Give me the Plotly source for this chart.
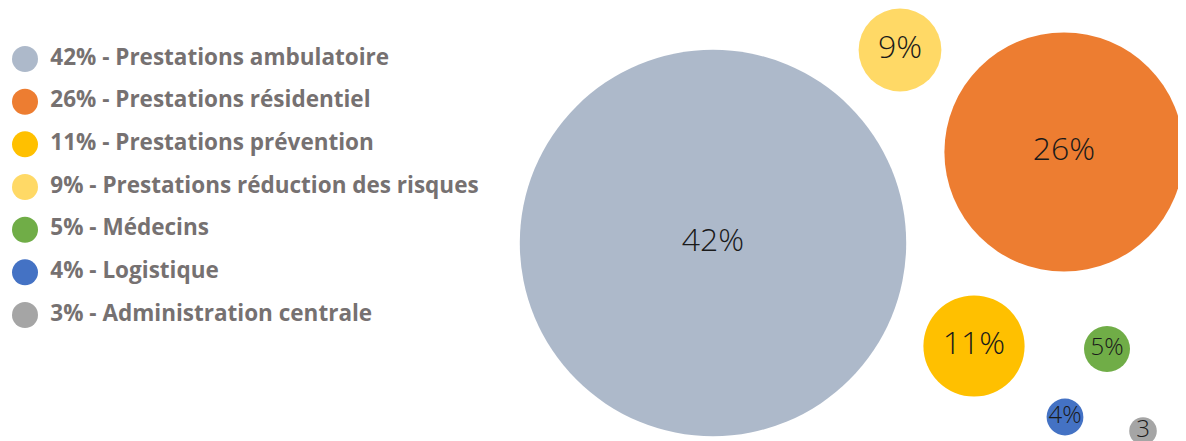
import plotly.graph_objects as go

categories = ["Prestations ambulatoire", "Prestations résidentiel", "Prestations prévention",
              "Prestations réduction des risques", "Médecins", "Logistique", "Administration centrale"]
values = [42, 26, 11, 9, 5, 4, 3]
bubble_labels = ["42%", "26%", "11%", "9%", "5%", "4%", "3"]
colors = ["#ADB9CA", "#ED7D31", "#FFC000", "#FFD966", "#70AD47", "#4472C4", "#A5A5A5"]
# bubble layout positions (chart units)
x_pos = [713, 1064, 974, 900, 1107, 1065, 1143]
y_pos = [243, 152, 346, 50, 349, 417, 431]
label_sizes = [32, 32, 32, 32, 24, 24, 24]

legend_text = [f"{v}% - {c}" for v, c in zip(values, categories)]

fig = go.Figure()

fig.add_trace(go.Scatter(
    x=x_pos, y=y_pos, mode="markers+text",
    text=bubble_labels, textposition="middle center",
    marker=dict(size=[v * 9.2 for v in values], sizemode="diameter", color=colors,
                opacity=1, line=dict(width=0)),
    textfont=dict(family="Open Sans", size=label_sizes, color="#1a1a1a", weight=300),
    hoverinfo="skip", showlegend=False, xaxis="x", yaxis="y",
))

fig.add_trace(go.Scatter(
    x=[0] * len(categories), y=list(range(len(categories))), mode="markers+text",
    text=[" \u200a" + t for t in legend_text], textposition="middle right",
    marker=dict(size=26, color=colors, line=dict(width=0)),
    textfont=dict(family="Open Sans", size=22.5, color="#767171", weight=700),
    hoverinfo="skip", showlegend=False, xaxis="x2", yaxis="y2", cliponaxis=False,
))

hidden = dict(visible=False, showgrid=False, zeroline=False, fixedrange=True)
fig.update_layout(
    width=1178, height=433,
    margin=dict(l=0, r=0, t=0, b=0),
    paper_bgcolor="white", plot_bgcolor="rgba(0,0,0,0)",
    xaxis=dict(range=[8, 1186], domain=[0, 1], **hidden),
    yaxis=dict(range=[441, 8], domain=[0, 1], **hidden),
    xaxis2=dict(range=[-1, 26.72], domain=[0, 0.4], anchor="y2", **hidden),
    yaxis2=dict(range=[6.5, -0.5], domain=[0.2417, 0.9314], anchor="x2", **hidden),
    showlegend=False,
)

fig.write_html("out.html")
